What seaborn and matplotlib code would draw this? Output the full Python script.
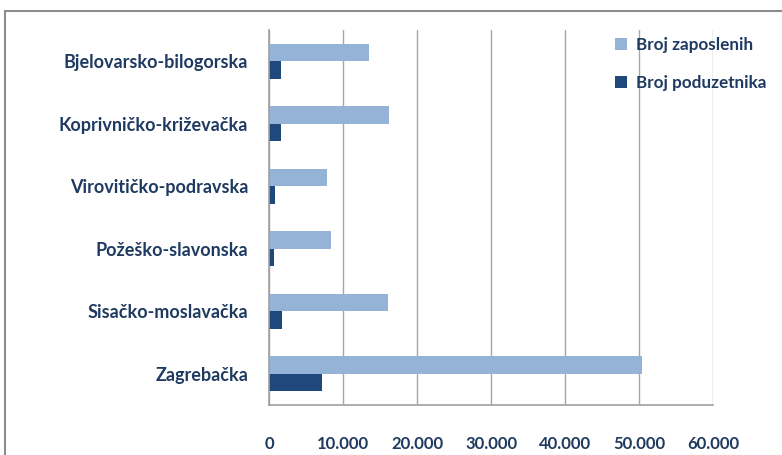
import pandas as pd
import matplotlib.pyplot as plt
import matplotlib.patches as mpatches
from matplotlib.ticker import FuncFormatter, FixedLocator
import seaborn as sns

zupanije = ["Bjelovarsko-bilogorska", "Koprivničko-križevačka", "Virovitičko-podravska",
            "Požeško-slavonska", "Sisačko-moslavačka", "Zagrebačka"]
zaposleni = [13500, 16200, 7800, 8400, 16100, 50400]
poduzetnici = [1600, 1600, 800, 700, 1750, 7150]
serije = ["Broj zaposlenih", "Broj poduzetnika"]

df = pd.DataFrame({
    "zupanija": zupanije * 2,
    "vrijednost": zaposleni + poduzetnici,
    "serija": [serije[0]] * len(zupanije) + [serije[1]] * len(zupanije),
})

txt = "#1F3A60"
sns.set_style("white")
plt.rcParams["font.family"] = ["Lato", "DejaVu Sans"]

fig = plt.figure(figsize=(7.82, 4.55), dpi=100)
ax = fig.add_axes([269 / 782, 1 - 405 / 455, (713 - 269) / 782, (405 - 30) / 455])

sns.barplot(data=df, y="zupanija", x="vrijednost", hue="serija", orient="h",
            palette=["#95B3D7", "#1F497D"], width=0.56, gap=0, ax=ax,
            edgecolor="none", saturation=1, legend=True)

ax.set_xlim(0, 60000)
ax.set_ylim(5.5, -0.5)
ax.set_xticks(range(0, 60001, 10000))
ax.xaxis.set_major_formatter(FuncFormatter(lambda v, p: f"{int(v):,}".replace(",", ".")))
ax.grid(axis="x", color="#A6A6A6", lw=1)
ax.set_axisbelow(True)
ax.set_xlabel("")
ax.set_ylabel("")

for s in ["top", "right"]:
    ax.spines[s].set_visible(False)
for s in ["left", "bottom"]:
    ax.spines[s].set_color("#A0A0A0")
    ax.spines[s].set_linewidth(1.2)

ax.tick_params(axis="x", length=5, color="#A0A0A0", pad=17, labelsize=12, labelcolor=txt)
ax.tick_params(axis="y", length=0, pad=15, labelsize=13, labelcolor=txt)
ax.yaxis.set_minor_locator(FixedLocator([-0.5 + i for i in range(7)]))
ax.tick_params(axis="y", which="minor", length=5, color="#A0A0A0", width=1.2)
for lbl in ax.get_xticklabels() + ax.get_yticklabels():
    lbl.set_fontweight("bold")

handles, labels = ax.get_legend_handles_labels()
ax.legend_.remove()
fig.legend(handles, labels, loc="upper left", bbox_to_anchor=(600 / 782, 1 - 22 / 455),
           frameon=False, handlelength=0.7, handleheight=0.7, handletextpad=0.5,
           labelspacing=1.25, prop={"weight": "bold", "size": 12.3}, labelcolor=txt)

fig.patches.append(mpatches.Rectangle((5 / 782, -0.1), 1.2, 1 - 11 / 455 + 0.1,
                                      transform=fig.transFigure, fill=False,
                                      edgecolor="#8C8C8C", lw=1.5))

fig.savefig("out.png", dpi=100)
